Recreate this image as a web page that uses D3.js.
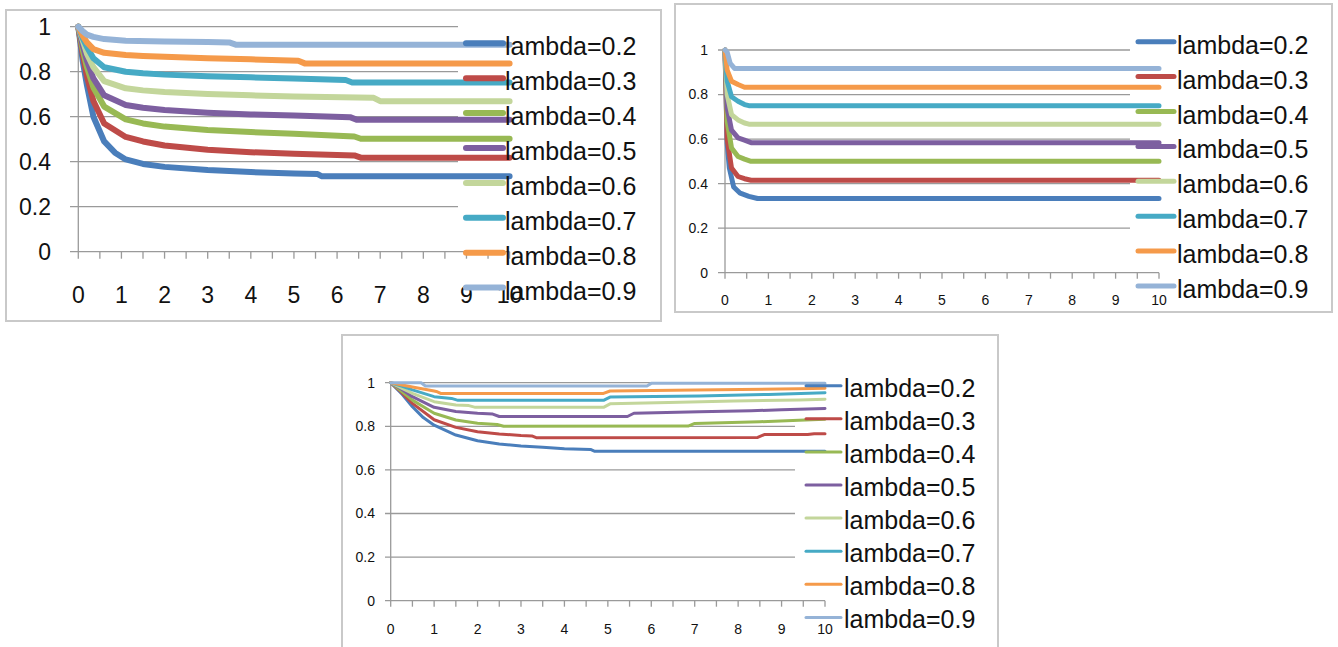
<!DOCTYPE html>
<html>
<head>
<meta charset="utf-8">
<script src="https://cdn.jsdelivr.net/npm/d3@7/dist/d3.min.js"></script>
<style>
  html, body { margin: 0; padding: 0; background: #fff; }
  svg { display: block; }
  text { font-family: "Liberation Sans", Arial, sans-serif; fill: #111; }
</style>
</head>
<body>
<svg id="chart" width="1338" height="647"></svg>
<script>
// ---------------- DATA ----------------
const seriesLabels = ["lambda=0.2", "lambda=0.3", "lambda=0.4", "lambda=0.5",
                      "lambda=0.6", "lambda=0.7", "lambda=0.8", "lambda=0.9"];
const seriesColors = ["#4a7ebb", "#be4b48", "#98b954", "#7d5fa0",
                      "#c3d69b", "#46aac5", "#f59a4a", "#95b3d7"];
const xTickLabels = [0, 1, 2, 3, 4, 5, 6, 7, 8, 9, 10];
const yTickLabels = [0, 0.2, 0.4, 0.6, 0.8, 1];

// Panel A (top left) — [x, value] points per lambda
const panelA = [
  [[0,1],[0.1,0.85],[0.2,0.74],[0.35,0.6],[0.6,0.49],[0.85,0.44],[1.1,0.41],[1.5,0.39],[2,0.377],[3,0.363],[4,0.354],[5,0.348],[5.55,0.345],[5.65,0.335],[10,0.335]],
  [[0,1],[0.1,0.88],[0.2,0.78],[0.35,0.67],[0.6,0.57],[1.1,0.51],[1.5,0.49],[2,0.472],[3,0.453],[4,0.442],[5,0.435],[6.4,0.428],[6.55,0.418],[10,0.418]],
  [[0,1],[0.1,0.9],[0.2,0.82],[0.35,0.73],[0.6,0.645],[1.1,0.588],[1.5,0.57],[2,0.556],[3,0.541],[4,0.532],[5,0.524],[6.4,0.512],[6.55,0.502],[10,0.502]],
  [[0,1],[0.1,0.92],[0.2,0.85],[0.35,0.77],[0.6,0.695],[1.1,0.652],[1.5,0.64],[2,0.63],[3,0.618],[4,0.61],[5,0.605],[6.3,0.598],[6.45,0.587],[10,0.587]],
  [[0,1],[0.1,0.94],[0.2,0.88],[0.35,0.82],[0.6,0.758],[1.1,0.726],[1.5,0.717],[2,0.71],[3,0.701],[4,0.695],[5,0.69],[6.85,0.684],[7,0.669],[10,0.669]],
  [[0,1],[0.1,0.95],[0.2,0.91],[0.35,0.86],[0.6,0.82],[1.1,0.8],[1.5,0.793],[2,0.787],[3,0.78],[4,0.775],[5,0.77],[6.2,0.763],[6.35,0.752],[10,0.752]],
  [[0,1],[0.1,0.96],[0.2,0.93],[0.35,0.9],[0.6,0.884],[1.1,0.874],[1.5,0.87],[2,0.866],[3,0.86],[4,0.855],[5.1,0.849],[5.25,0.837],[10,0.837]],
  [[0,1],[0.1,0.98],[0.2,0.965],[0.35,0.955],[0.6,0.945],[1.1,0.938],[2,0.934],[3,0.932],[3.5,0.93],[3.65,0.92],[10,0.92]]
];

// Panel B (top right)
const panelB = [
  [[0,1],[0.05,0.58],[0.1,0.47],[0.2,0.385],[0.35,0.357],[0.55,0.343],[0.75,0.333],[10,0.333]],
  [[0,1],[0.05,0.6],[0.15,0.47],[0.3,0.432],[0.45,0.422],[0.6,0.415],[10,0.415]],
  [[0,1],[0.05,0.68],[0.15,0.56],[0.3,0.522],[0.45,0.51],[0.6,0.5],[10,0.5]],
  [[0,1],[0.05,0.74],[0.15,0.64],[0.3,0.605],[0.45,0.595],[0.6,0.584],[10,0.584]],
  [[0,1],[0.05,0.8],[0.15,0.71],[0.3,0.686],[0.45,0.672],[0.55,0.667],[10,0.667]],
  [[0,1],[0.05,0.86],[0.15,0.79],[0.3,0.77],[0.45,0.755],[0.55,0.75],[10,0.75]],
  [[0,1],[0.05,0.91],[0.15,0.86],[0.3,0.845],[0.45,0.833],[10,0.833]],
  [[0,1],[0.05,0.99],[0.12,0.94],[0.22,0.917],[10,0.917]]
];

// Panel C (bottom)
const panelC = [
  [[0,1],[0.25,0.95],[0.5,0.89],[0.75,0.84],[1,0.805],[1.5,0.76],[2,0.734],[2.5,0.719],[3,0.71],[3.5,0.704],[4,0.697],[4.6,0.694],[4.7,0.685],[10,0.685]],
  [[0,1],[0.25,0.955],[0.5,0.905],[1,0.83],[1.5,0.795],[2,0.775],[2.5,0.765],[3,0.758],[3.25,0.756],[3.35,0.748],[8.45,0.749],[8.6,0.762],[9.6,0.762],[9.75,0.766],[10,0.766]],
  [[0,1],[0.25,0.96],[0.5,0.92],[1,0.86],[1.5,0.829],[2,0.814],[2.45,0.808],[2.6,0.8],[6.85,0.801],[7,0.813],[8.5,0.821],[9.4,0.828],[10,0.832]],
  [[0,1],[0.25,0.97],[0.5,0.936],[1,0.887],[1.5,0.868],[2,0.86],[2.35,0.856],[2.5,0.845],[5.45,0.845],[5.6,0.86],[7.1,0.867],[8.3,0.871],[9,0.876],[10,0.882]],
  [[0,1],[0.25,0.975],[0.5,0.951],[1,0.913],[1.5,0.898],[1.8,0.895],[1.95,0.887],[4.9,0.887],[5.05,0.903],[6.4,0.909],[7.9,0.916],[9.4,0.921],[10,0.924]],
  [[0,1],[0.25,0.985],[0.5,0.967],[1,0.936],[1.4,0.928],[1.55,0.919],[4.9,0.919],[5.05,0.934],[7.1,0.939],[8.7,0.946],[10,0.954]],
  [[0,1],[0.5,0.98],[1,0.962],[1.05,0.96],[1.15,0.951],[4.9,0.951],[5.05,0.962],[7,0.966],[9.4,0.972],[10,0.975]],
  [[0,1],[0.7,1],[0.8,0.985],[5.9,0.985],[6.0,0.997],[10,0.997]]
];

// ---------------- LAYOUT ----------------
const panels = [
  { data: panelA, frame: [6, 10, 661, 321],
    xr: [78.3, 509.6], yr: [251.7, 26.7], gridX0: 70, gridX1: 458,
    tickFont: 23, yLabelRight: 51, xLabelY: 295, stroke: 6, tickLen: 7,
    legend: { sw0: 466, sw1: 503, textX: 505, swY: 43.3, txtY: 46.7, step: 34.9, font: 25 } },
  { data: panelB, frame: [675, 4, 1332, 312],
    xr: [725, 1159], yr: [272.7, 50], gridX0: 718, gridX1: 1130,
    tickFont: 14, yLabelRight: 708, xLabelY: 300, stroke: 5, tickLen: 6,
    legend: { sw0: 1138, sw1: 1174, textX: 1177, swY: 41.7, txtY: 45, step: 34.9, font: 25 } },
  { data: panelC, frame: [342, 335, 998, 680],
    xr: [390.7, 825], yr: [600.7, 382.7], gridX0: 385, gridX1: 795,
    tickFont: 14, yLabelRight: 375, xLabelY: 629, stroke: 3, tickLen: 6,
    legend: { sw0: 806, sw1: 841, textX: 844, swY: 385.7, txtY: 388, step: 33.1, font: 25 } }
];

const svg = d3.select("#chart");

panels.forEach(p => {
  const g = svg.append("g");
  const x = d3.scaleLinear().domain([0, 10]).range(p.xr);
  const y = d3.scaleLinear().domain([0, 1]).range(p.yr);

  // frame
  g.append("rect")
    .attr("x", p.frame[0]).attr("y", p.frame[1])
    .attr("width", p.frame[2] - p.frame[0]).attr("height", p.frame[3] - p.frame[1])
    .attr("fill", "#fff").attr("stroke", "#c9c9c9").attr("stroke-width", 2);

  // gridlines
  g.selectAll(".grid").data(yTickLabels.filter(v => v > 0)).enter().append("line")
    .attr("x1", p.gridX0).attr("x2", p.gridX1)
    .attr("y1", d => y(d)).attr("y2", d => y(d))
    .attr("stroke", "#9a9a9a").attr("stroke-width", 1.3);

  // y axis line
  g.append("line").attr("x1", x(0)).attr("x2", x(0))
    .attr("y1", y(0)).attr("y2", y(1))
    .attr("stroke", "#9a9a9a").attr("stroke-width", 1.3);
  // x axis line
  g.append("line").attr("x1", p.gridX0).attr("x2", x(10))
    .attr("y1", y(0)).attr("y2", y(0))
    .attr("stroke", "#9a9a9a").attr("stroke-width", 1.3);
  // x ticks every 0.5
  g.selectAll(".xt").data(d3.range(0, 10.01, 0.5)).enter().append("line")
    .attr("x1", d => x(d)).attr("x2", d => x(d))
    .attr("y1", y(0)).attr("y2", y(0) + p.tickLen)
    .attr("stroke", "#9a9a9a").attr("stroke-width", 1.3);

  // tick labels
  g.selectAll(".yl").data(yTickLabels).enter().append("text")
    .attr("x", p.yLabelRight).attr("y", d => y(d)).attr("dy", "0.35em")
    .attr("text-anchor", "end").attr("font-size", p.tickFont)
    .text(d => d3.format("")(Math.round(d * 10) / 10));
  g.selectAll(".xl").data(xTickLabels).enter().append("text")
    .attr("x", d => x(d)).attr("y", p.xLabelY).attr("dy", "0.35em")
    .attr("text-anchor", "middle").attr("font-size", p.tickFont)
    .text(d => d);

  // series lines
  const line = d3.line().x(d => x(d[0])).y(d => y(d[1]));
  g.selectAll(".series").data(p.data).enter().append("path")
    .attr("d", line)
    .attr("fill", "none")
    .attr("stroke", (d, i) => seriesColors[i])
    .attr("stroke-width", p.stroke)
    .attr("stroke-linejoin", "round")
    .attr("stroke-linecap", "round");

  // legend
  const L = p.legend;
  const lg = g.append("g");
  seriesLabels.forEach((lab, i) => {
    lg.append("line")
      .attr("x1", L.sw0).attr("x2", L.sw1)
      .attr("y1", L.swY + i * L.step).attr("y2", L.swY + i * L.step)
      .attr("stroke", seriesColors[i]).attr("stroke-width", p.stroke)
      .attr("stroke-linecap", "round");
    lg.append("text")
      .attr("x", L.textX).attr("y", L.txtY + i * L.step).attr("dy", "0.35em")
      .attr("font-size", L.font)
      .text(lab);
  });
});
</script>
</body>
</html>
